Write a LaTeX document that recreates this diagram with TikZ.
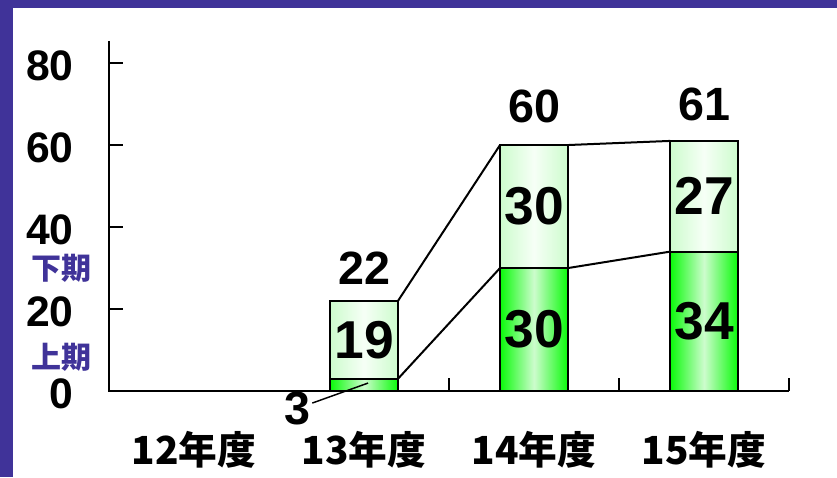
\documentclass[tikz,border=0pt]{standalone}
\usepackage{fontspec}
\usepackage{tikz}
\usetikzlibrary{positioning}
\newfontfamily\numfont{Liberation Sans}
\newfontfamily\jpfont{Noto Sans CJK JP}
\definecolor{framepurple}{RGB}{64,51,153}
\definecolor{deepgreen}{RGB}{10,250,10}
\definecolor{palegreen}{RGB}{205,252,205}
\definecolor{mistgreen}{RGB}{246,255,246}
\def\valunit{3.075pt}
\tikzset{
    seg/.style={rectangle,draw,line width=1.3pt,inner sep=0pt,outer sep=0pt,minimum width=51pt,font=\numfont\bfseries\fontsize{40}{40}\selectfont},
    firstbar/.style={seg,left color=deepgreen,right color=deepgreen,middle color=palegreen},
    secondbar/.style={seg,left color=palegreen,right color=palegreen,middle color=mistgreen},
    total/.style={inner sep=1pt,font=\numfont\bfseries\fontsize{35}{35}\selectfont},
    ticklabel/.style={anchor=east,inner sep=0pt,font=\numfont\bfseries\fontsize{32}{32}\selectfont},
    halflabel/.style={text=framepurple,inner sep=0pt,font=\jpfont\bfseries\fontsize{22.5}{22.5}\selectfont},
    yearlabel/.style={inner sep=0pt,font=\jpfont\bfseries\fontsize{29}{29}\selectfont},
    axisline/.style={line width=1.6pt},
    link/.style={line width=1.5pt},
}

\begin{document}
\begin{tikzpicture}[x=127.5pt,y=\valunit]
	\useasboundingbox (-0.641,-20.98) rectangle (4.282,95.37);
	% frame
	\fill[framepurple] (-0.641,-20.98) rectangle (-0.565,95.37);
	\fill[framepurple] (-0.641,93.41) rectangle (4.282,95.37);

	% axes
	\coordinate (o) at (0,0);
	\draw[axisline] (0,85.4) -- (o) -- (4,0);
	\foreach \v in {20,40,60,80}
		\draw[axisline] (0,\v) -- (0.082,\v);
	\foreach \c in {2,3,4}
		\draw[axisline] (\c,0) -- (\c,3.2);
	\foreach \v in {0,20,40,60,80}
		\node[ticklabel] (y\v) at (-0.206,\v-0.75) {\v};
	\node[halflabel] (shimo) at (-0.282,30) {下期};
	\node[halflabel] (kami) at (-0.282,8.3) {上期};
	\foreach \yr [count=\i] in {12,13,14,15}
		\node[yearlabel] (yr\yr) at (\i-0.5,-14.4) {{\yr}年度};

	% bars
	\node[firstbar,minimum height=3*\valunit] (a13) at (1.5,1.5) {};
	\node[secondbar,minimum height=19*\valunit] (b13) at (1.5,12.5) {19};
	\node[firstbar,minimum height=30*\valunit] (a14) at (2.5,15) {30};
	\node[secondbar,minimum height=30*\valunit] (b14) at (2.5,45) {30};
	\node[firstbar,minimum height=34*\valunit] (a15) at (3.5,17) {34};
	\node[secondbar,minimum height=27*\valunit] (b15) at (3.5,47.5) {27};

	\draw[link] (b13.north east) -- (b14.north west);
	\draw[link] (a13.north east) -- (a14.north west);
	\draw[link] (b14.north east) -- (b15.north west);
	\draw[link] (a14.north east) -- (a15.north west);

	% totals
	\node[total] (t13) at (1.5,30) {22};
	\node[total] (t14) at (2.5,69.3) {60};
	\node[total] (t15) at (3.5,69.8) {61};
	\node[total] (v3) at (1.11,-4.2) {3};
	\coordinate (p3) at (1.524,1.95);
	\draw[line width=1.1pt] (v3) -- (p3);
\end{tikzpicture}
\end{document}
